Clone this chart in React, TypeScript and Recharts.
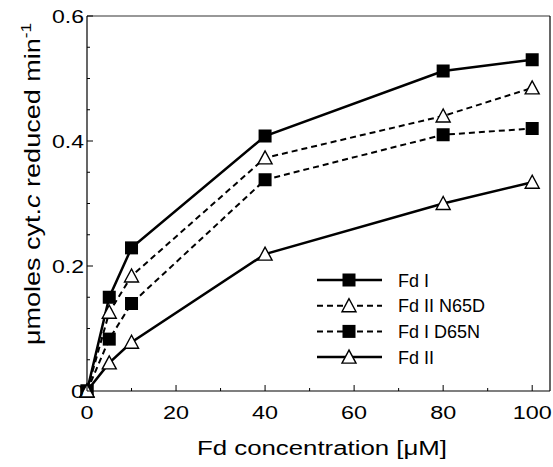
import { Label, Legend, Line, LineChart, ReferenceLine, XAxis, YAxis } from 'recharts';

// Fd concentration (µM) and activity per variant.
const concentrations = [0, 5, 10, 40, 80, 100];
const fdI = [0, 0.15, 0.229, 0.408, 0.512, 0.53];
const fdIIN65D = [0, 0.126, 0.184, 0.373, 0.44, 0.485];
const fdID65N = [0, 0.083, 0.14, 0.338, 0.41, 0.42];
const fdII = [0, 0.045, 0.078, 0.219, 0.3, 0.334];

const xTicks = [0, 10, 20, 30, 40, 50, 60, 70, 80, 90, 100];
const yTicks = [0, 0.05, 0.1, 0.15, 0.2, 0.25, 0.3, 0.35, 0.4, 0.45, 0.5, 0.55, 0.6];

const FONT = '"Liberation Sans", Arial, Helvetica, sans-serif';

type SeriesDef = { key: string; name: string; marker: 'square' | 'triangle'; dashed: boolean };
const SERIES: SeriesDef[] = [
  { key: 'fdI', name: 'Fd I', marker: 'square', dashed: false },
  { key: 'fdIIN65D', name: 'Fd II N65D', marker: 'triangle', dashed: true },
  { key: 'fdID65N', name: 'Fd I D65N', marker: 'square', dashed: true },
  { key: 'fdII', name: 'Fd II', marker: 'triangle', dashed: false },
];

const data = concentrations.map((x, i) => ({
  x,
  fdI: fdI[i],
  fdIIN65D: fdIIN65D[i],
  fdID65N: fdID65N[i],
  fdII: fdII[i],
}));

function Marker({ cx, cy, kind }: { cx: number; cy: number; kind: 'square' | 'triangle' }) {
  if (kind === 'square') {
    return <rect x={cx - 6.5} y={cy - 6.5} width={13} height={13} fill="#000" />;
  }
  return (
    <polygon
      points={`${cx},${cy - 7} ${cx - 7},${cy + 6} ${cx + 7},${cy + 6}`}
      fill="#fff"
      stroke="#000"
      strokeWidth={1.4}
    />
  );
}

function dotFor(kind: 'square' | 'triangle') {
  return (props: any) => {
    const { cx, cy, index } = props;
    return (
      <g key={`dot-${kind}-${index}`}>
        <Marker cx={cx} cy={cy} kind={kind} />
      </g>
    );
  };
}

function XTick(props: any) {
  const { x, y, payload } = props;
  const v = payload.value as number;
  const major = v % 20 === 0;
  const label = String(v);
  return (
    <g>
      <line x1={x} x2={x} y1={y} y2={y - (major ? 6 : 3)} stroke="#000" strokeWidth={1} />
      {major && (
        <text
          x={x}
          y={y + 28}
          textAnchor="middle"
          fontSize={18}
          fontFamily={FONT}
          fill="#000"
          textLength={label.length * 13}
          lengthAdjust="spacingAndGlyphs"
        >
          {label}
        </text>
      )}
    </g>
  );
}

function YTick(props: any) {
  const { x, y, payload } = props;
  const v = payload.value as number;
  const r = Math.round(v * 100) % 20;
  const major = r === 0;
  const label = v === 0 ? '0' : v.toFixed(1);
  const len = label === '0' ? 13 : 32;
  return (
    <g>
      <line x1={x} x2={x + (major ? 6 : 3)} y1={y} y2={y} stroke="#000" strokeWidth={1} />
      {major && (
        <text
          x={x - 3}
          y={y + 7}
          textAnchor="end"
          fontSize={18}
          fontFamily={FONT}
          fill="#000"
          textLength={len}
          lengthAdjust="spacingAndGlyphs"
        >
          {label}
        </text>
      )}
    </g>
  );
}

const xTitle = () => (
  <text
    x={322}
    y={455}
    textAnchor="middle"
    fontSize={20}
    fontFamily={FONT}
    fill="#000"
    textLength={250}
    lengthAdjust="spacingAndGlyphs"
  >
    Fd concentration [μM]
  </text>
);

const yTitle = () => (
  <text
    transform="translate(40, 184) rotate(-90)"
    x={0}
    y={0}
    textAnchor="middle"
    fontSize={22}
    fontFamily={FONT}
    fill="#000"
    textLength={322}
    lengthAdjust="spacingAndGlyphs"
  >
    <tspan>μmoles cyt.</tspan>
    <tspan fontStyle="italic">c</tspan>
    <tspan> reduced min</tspan>
    <tspan fontSize={14} dy={-9}>-1</tspan>
  </text>
);

function LegendBlock() {
  return (
    <svg width={230} height={110} style={{ display: 'block' }}>
      {SERIES.map((s, i) => {
        const cy = 12 + i * 25.7;
        return (
          <g key={s.key}>
            <line
              x1={7}
              x2={72}
              y1={cy}
              y2={cy}
              stroke="#000"
              strokeWidth={s.dashed ? 2 : 2.5}
              strokeDasharray={s.dashed ? '6 4' : undefined}
            />
            <Marker cx={39} cy={cy} kind={s.marker} />
            <text x={88} y={cy + 6.5} fontSize={18} fontFamily={FONT} fill="#000">
              {s.name}
            </text>
          </g>
        );
      })}
    </svg>
  );
}

export default function App() {
  return (
    <div style={{ position: 'absolute', left: 0, top: 0, width: 553, height: 467, background: '#fff' }}>
      <LineChart width={553} height={467} data={data} margin={{ top: 16, right: 3, left: 0, bottom: 0 }}>
        <XAxis
          dataKey="x"
          type="number"
          domain={[0, 104]}
          ticks={xTicks}
          height={76}
          axisLine={{ stroke: '#000', strokeWidth: 1.2 }}
          tickLine={false}
          tickSize={0}
          tickMargin={0}
          tick={<XTick />}
          interval={0}
        >
          <Label content={xTitle} />
        </XAxis>
        <YAxis
          type="number"
          domain={[0, 0.6]}
          ticks={yTicks}
          width={87}
          axisLine={{ stroke: '#000', strokeWidth: 1.2 }}
          tickLine={false}
          tickSize={0}
          tickMargin={0}
          tick={<YTick />}
          interval={0}
        >
          <Label content={yTitle} />
        </YAxis>
        <ReferenceLine y={0.6} stroke="#333" strokeWidth={1.2} ifOverflow="extendDomain" />
        <ReferenceLine x={104} stroke="#000" strokeWidth={1.2} ifOverflow="extendDomain" />
        <Legend
          layout="horizontal"
          verticalAlign="middle"
          align="center"
          content={() => <LegendBlock />}
          wrapperStyle={{ position: 'absolute', left: 310, top: 268, width: 230, height: 110 }}
        />
        {SERIES.map((s) => (
          <Line
            key={s.key}
            dataKey={s.key}
            name={s.name}
            type="linear"
            stroke="#000"
            strokeWidth={s.dashed ? 2 : 2.5}
            strokeDasharray={s.dashed ? '6 4' : undefined}
            dot={dotFor(s.marker)}
            activeDot={false}
            isAnimationActive={false}
          />
        ))}
      </LineChart>
    </div>
  );
}
